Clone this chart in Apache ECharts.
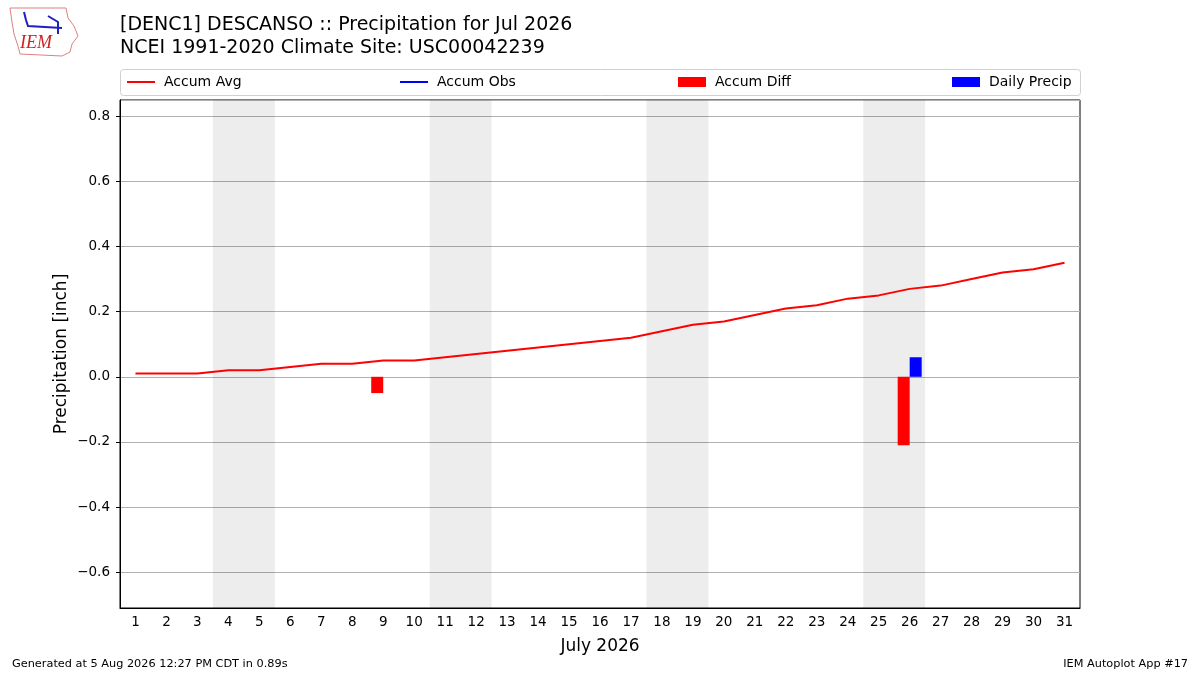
<!DOCTYPE html>
<html>
<head>
<meta charset="utf-8">
<script src="https://cdn.jsdelivr.net/npm/echarts@6/dist/echarts.min.js"></script>
<style>
  html, body { margin: 0; padding: 0; background: #fff; }
  #main { width: 1200px; height: 675px; }
</style>
</head>
<body>
<div id="main"></div>
<script>
// days of July 2026
var days = [];
for (var d = 1; d <= 31; d++) days.push(String(d));

// accumulated climate average (inch)
var accumAvg = [0.01, 0.01, 0.01, 0.02, 0.02, 0.03, 0.04, 0.04, 0.05, 0.05,
  0.06, 0.07, 0.08, 0.09, 0.10, 0.11, 0.12, 0.14, 0.16, 0.17,
  0.19, 0.21, 0.22, 0.24, 0.25, 0.27, 0.28, 0.30, 0.32, 0.33, 0.35];
// accumulated observed - not drawn in the reference
var accumObs = [];
// accumulated difference bars (only nonzero days shown)
var accumDiff = [null, null, null, null, null, null, null, null, -0.05, null,
  null, null, null, null, null, null, null, null, null, null,
  null, null, null, null, null, -0.21, null, null, null, null, null];
// daily precip bars
var dailyPrecip = [null, null, null, null, null, null, null, null, null, null,
  null, null, null, null, null, null, null, null, null, null,
  null, null, null, null, null, 0.06, null, null, null, null, null];
// weekends (Sat-Sun)
var weekends = [[3.5, 5.5], [10.5, 12.5], [17.5, 19.5], [24.5, 26.5]];

var font = 'DejaVu Sans';
var chart = echarts.init(document.getElementById('main'));

var legendBase = {
  top: 70,
  itemWidth: 28,
  itemGap: 10,
  textStyle: { fontFamily: font, fontSize: 14, color: '#000', padding: [0, 0, 0, 4] }
};

var option = {
  animation: false,
  backgroundColor: '#fff',
  title: {
    text: '[DENC1] DESCANSO :: Precipitation for Jul 2026\nNCEI 1991-2020 Climate Site: USC00042239',
    left: 115,
    top: 9,
    textStyle: { fontFamily: font, fontSize: 19, fontWeight: 'normal', color: '#000', lineHeight: 23 }
  },
  legend: [
    Object.assign({}, legendBase, { left: 122, data: [{ name: 'Accum Avg', icon: 'rect' }], itemHeight: 2 }),
    Object.assign({}, legendBase, { left: 395, data: [{ name: 'Accum Obs', icon: 'rect' }], itemHeight: 2 }),
    Object.assign({}, legendBase, { left: 673, data: [{ name: 'Accum Diff', icon: 'rect' }], itemHeight: 10 }),
    Object.assign({}, legendBase, { left: 947, data: [{ name: 'Daily Precip', icon: 'rect' }], itemHeight: 10 })
  ],
  grid: {
    left: 120, right: 120, top: 100, bottom: 67,
    show: true, borderColor: '#000', borderWidth: 1, backgroundColor: 'transparent'
  },
  xAxis: [{
    type: 'category',
    data: days,
    boundaryGap: true,
    name: 'July 2026',
    nameLocation: 'middle',
    nameGap: 30,
    nameTextStyle: { fontFamily: font, fontSize: 17, color: '#000' },
    axisLine: { onZero: false, lineStyle: { color: '#000' } },
    axisTick: { alignWithLabel: true, length: 4, lineStyle: { color: '#000' } },
    axisLabel: { fontFamily: font, fontSize: 13.5, color: '#000', margin: 7, interval: 0 },
    splitLine: { show: false }
  }, {
    type: 'value',
    min: 0.5,
    max: 31.5,
    show: false
  }],
  yAxis: {
    type: 'value',
    min: -0.71,
    max: 0.85,
    splitNumber: 8,
    name: 'Precipitation [inch]',
    nameLocation: 'middle',
    nameGap: 50,
    nameMoveOverlap: false,
    nameTextStyle: { fontFamily: font, fontSize: 17, color: '#000' },
    axisLine: { show: true, lineStyle: { color: '#000' } },
    axisTick: { show: true, length: 4, lineStyle: { color: '#000' } },
    axisLabel: {
      fontFamily: font, fontSize: 13.5, color: '#000', margin: 10,
      showMinLabel: false, showMaxLabel: false,
      formatter: function (v) { return v.toFixed(1).replace('-', '\u2212'); }
    },
    splitLine: { show: true, lineStyle: { color: '#b0b0b0', width: 1 } }
  },
  series: [
    {
      name: 'weekend',
      type: 'line',
      xAxisIndex: 1,
      data: [],
      silent: true,
      markArea: {
        silent: true,
        itemStyle: { color: 'rgba(0,0,0,0.07)' },
        data: weekends.map(function (w) { return [{ xAxis: w[0] }, { xAxis: w[1] }]; })
      }
    },
    {
      name: 'Accum Avg',
      type: 'line',
      data: accumAvg,
      symbol: 'none',
      itemStyle: { color: '#ff0000' },
      lineStyle: { color: '#ff0000', width: 2 },
      z: 5
    },
    {
      name: 'Accum Obs',
      type: 'line',
      data: accumObs,
      symbol: 'none',
      itemStyle: { color: '#0000ff' },
      lineStyle: { color: '#0000ff', width: 2 },
      z: 5
    },
    {
      name: 'Accum Diff',
      type: 'bar',
      data: accumDiff,
      barWidth: 12,
      barGap: '0%',
      itemStyle: { color: '#ff0000' },
      z: 3
    },
    {
      name: 'Daily Precip',
      type: 'bar',
      data: dailyPrecip,
      barWidth: 12,
      barGap: '0%',
      itemStyle: { color: '#0000ff' },
      z: 3
    }
  ],
  graphic: [
    // legend frame
    {
      type: 'rect', left: 120, top: 69, z: -1,
      shape: { width: 960, height: 26, r: 3 },
      style: { fill: '#fff', stroke: '#d0d0d0', lineWidth: 1 }
    },
    // rough IEM logo
    {
      type: 'polyline', z: 1,
      shape: { points: [[10, 8], [66, 8], [68, 18], [74, 26], [78, 36], [72, 44], [70, 52], [62, 56], [20, 54], [18, 46], [14, 34], [12, 22], [10, 8]] },
      style: { stroke: '#e08080', fill: 'none', lineWidth: 1 }
    },
    {
      type: 'polyline', z: 1,
      shape: { points: [[24, 12], [26, 20], [28, 26], [62, 28]] },
      style: { stroke: '#2020c0', fill: 'none', lineWidth: 2 }
    },
    {
      type: 'polyline', z: 1,
      shape: { points: [[48, 16], [58, 22], [58, 34]] },
      style: { stroke: '#2020c0', fill: 'none', lineWidth: 2 }
    },
    {
      type: 'text', left: 20, top: 34, z: 1,
      style: { text: 'IEM', fill: '#d02020', font: 'italic 18px "Liberation Serif"' }
    },
    // footer
    {
      type: 'text', left: 12, top: 659,
      style: { text: 'Generated at 5 Aug 2026 12:27 PM CDT in 0.89s', fill: '#000', font: '11.3px "DejaVu Sans"' }
    },
    {
      type: 'text', right: 12, top: 659,
      style: { text: 'IEM Autoplot App #17', fill: '#000', font: '11.3px "DejaVu Sans"' }
    }
  ]
};

chart.setOption(option);
</script>
</body>
</html>
